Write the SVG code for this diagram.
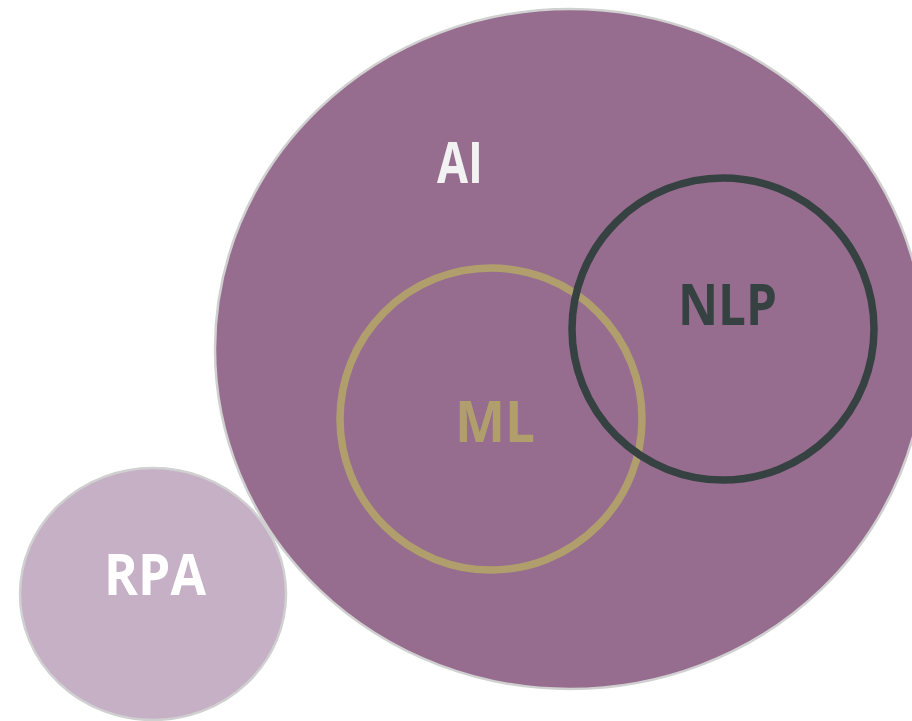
<svg xmlns="http://www.w3.org/2000/svg" width="912" height="721" viewBox="0 0 912 721">
<style>
.lbl{font-family:"Open Sans","Liberation Sans",sans-serif;font-weight:bold;font-size:57px;text-anchor:middle}
.outer{stroke:#d0d0d0;stroke-width:2.5}
</style>
<rect width="912" height="721" fill="#ffffff"/>
<g id="AI">
<ellipse class="outer" cx="570" cy="349" rx="355" ry="340" fill="#966d8e"/>
<text class="lbl" x="460" y="183" fill="#f2f2f2" textLength="46" lengthAdjust="spacingAndGlyphs">AI</text>
</g>
<g id="RPA">
<ellipse class="outer" cx="153" cy="594" rx="133" ry="126" fill="#c5b0c5"/>
<text class="lbl" x="155" y="595" fill="#ffffff" textLength="102" lengthAdjust="spacingAndGlyphs">RPA</text>
</g>
<g id="ML">
<circle cx="491" cy="419" r="151" fill="none" stroke="#b09f6c" stroke-width="7.5"/>
<text class="lbl" x="495" y="442" fill="#b09f6c" textLength="80" lengthAdjust="spacingAndGlyphs">ML</text>
</g>
<g id="NLP">
<circle cx="723" cy="329" r="151" fill="none" stroke="#364141" stroke-width="7.5"/>
<text class="lbl" x="727.5" y="325" fill="#364141" textLength="99" lengthAdjust="spacingAndGlyphs">NLP</text>
</g>
<g id="connectors"/>
</svg>
